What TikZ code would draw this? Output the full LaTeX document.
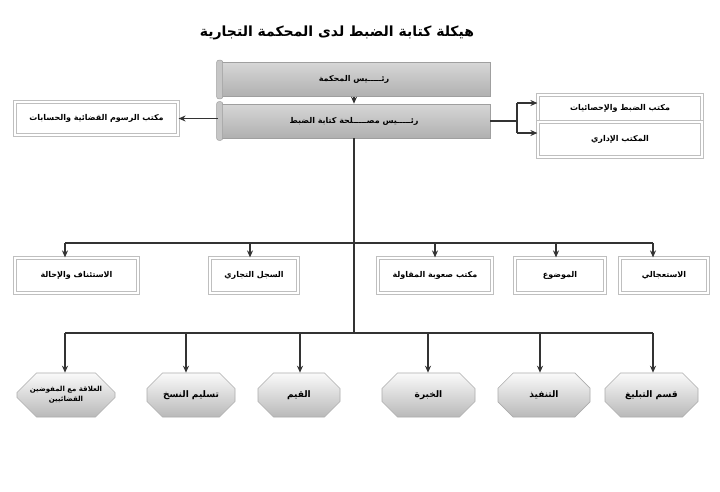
\documentclass[tikz,border=0pt]{standalone}
\usepackage{fontspec}
\TeXXeTstate=1
\newfontfamily\arfont[Script=Arabic]{DejaVu Sans}
\usetikzlibrary{shapes.misc,arrows.meta}

\tikzset{
  lbl/.style={font=\arfont\bfseries\fontsize{8}{11}\selectfont, text=black},
  scroll/.style={lbl, draw=gray!75, line width=0.6pt, top color=gray!32, bottom color=gray!62,
    minimum width=272pt, minimum height=34pt, inner sep=0pt},
  officebox/.style={lbl, preaction={draw=gray!50, line width=3.6pt}, draw=white, line width=1.2pt,
    inner sep=0pt},
  octbox/.style={lbl, chamfered rectangle, chamfered rectangle xsep=9pt, chamfered rectangle ysep=11pt,
    draw=gray!65, line width=0.6pt, top color=gray!4, bottom color=gray!55,
    minimum height=44pt, inner sep=0pt, align=center, font=\arfont\bfseries\fontsize{9}{11}\selectfont},
  conn/.style={draw=black!80, line width=1.2pt},
  arr/.style={conn, -{Stealth[length=7pt,width=6pt]}},
}

\begin{document}
\begin{tikzpicture}[x=1pt,y=-1pt]
\fill[white] (0,0) rectangle (720,491);
\useasboundingbox (0,0) rectangle (720,491);

% title
\node[font=\arfont\bfseries\fontsize{14}{16}\selectfont] (title) at (337,33)
  {\beginR هيكلة كتابة الضبط لدى المحكمة التجارية\endR};

% head boxes
\node[scroll] (s1) at (354,79.5) {\beginR رئـــــيس المحكمة\endR};
\node[scroll] (s2) at (354,121) {\beginR رئـــــيس مصـــــلحة كتابة الضبط\endR};
\foreach \s in {s1,s2}{
  \draw[draw=gray!75, fill=gray!45, rounded corners=2pt, line width=0.5pt]
    ([xshift=-1pt,yshift=2pt]\s.north west) rectangle ([xshift=5pt,yshift=-2pt]\s.south west);
}

% side boxes
\node[officebox, minimum width=163pt, minimum height=33pt] (lb) at (96.5,118.5)
  {\beginR مكتب الرسوم القضائية والحسابات\endR};
\node[officebox, minimum width=164pt, minimum height=27pt] (rt) at (620,108.5)
  {\beginR مكتب الضبط والإحصائيات\endR};
\node[officebox, minimum width=164pt, minimum height=35pt] (rb) at (620,139.5)
  {\beginR المكتب الإداري\endR};

% middle row
\node[officebox, minimum width=123pt, minimum height=35pt] (m1) at (76.5,275.5) {\beginR الاستئناف والإحالة\endR};
\node[officebox, minimum width=88pt,  minimum height=35pt] (m2) at (254,275.5) {\beginR السجل التجاري\endR};
\node[officebox, minimum width=114pt, minimum height=35pt] (m3) at (435,275.5) {\beginR مكتب صعوبة المقاولة\endR};
\node[officebox, minimum width=90pt,  minimum height=35pt] (m4) at (560,275.5) {\beginR الموضوع\endR};
\node[officebox, minimum width=88pt,  minimum height=35pt] (m5) at (664,275.5) {\beginR الاستعجالي\endR};

% bottom row
\node[octbox, minimum width=98pt, font=\arfont\bfseries\fontsize{7}{10}\selectfont] (o1) at (66,395)
  {\beginR العلاقة مع المفوضين\endR\\\beginR القضائيين\endR};
\node[octbox, minimum width=88pt] (o2) at (191,395) {\beginR تسليم النسخ\endR};
\node[octbox, minimum width=82pt] (o3) at (299,395) {\beginR القيم\endR};
\node[octbox, minimum width=93pt] (o4) at (428.5,395) {\beginR الخبرة\endR};
\node[octbox, minimum width=92pt] (o5) at (544,395) {\beginR التنفيذ\endR};
\node[octbox, minimum width=93pt] (o6) at (651.5,395) {\beginR قسم التبليغ\endR};

% connectors
\draw[arr] (s1.south) -- (s2.north);
\draw[arr] (lb.east -| s2.west) -- (lb.east);

\coordinate (bt) at (517,103);
\coordinate (bb) at (517,133);
\draw[conn] (s2.east) -- (s2.east -| bt);
\draw[conn] (bt) -- (bb);
\draw[arr] (bt) -- (bt -| rt.west);
\draw[arr] (bb) -- (bb -| rb.west);

\coordinate (bot) at (354,333);
\draw[conn] (s2.south) -- (bot);

\coordinate (hmL) at (65,243);
\coordinate (hmR) at (653,243);
\draw[conn] (hmL) -- (hmR);
\foreach \x/\n in {65/m1,250/m2,435/m3,556/m4,653/m5}{
  \coordinate (t\n) at (\x,243);
  \draw[arr] (t\n) -- (t\n |- \n.north);
}

\coordinate (hbL) at (65,333);
\coordinate (hbR) at (653,333);
\draw[conn] (hbL) -- (hbR);
\foreach \x/\n in {65/o1,186/o2,300/o3,428/o4,540/o5,653/o6}{
  \coordinate (t\n) at (\x,333);
  \draw[arr] (t\n) -- (t\n |- \n.north);
}
\end{tikzpicture}
\end{document}
